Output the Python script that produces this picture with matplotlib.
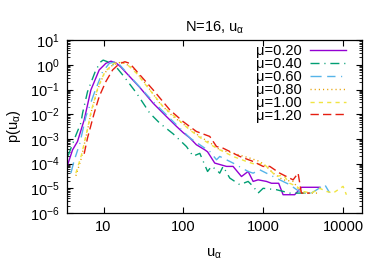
import matplotlib
matplotlib.use('Agg')
import matplotlib.pyplot as plt
from matplotlib.ticker import LogLocator, LogFormatterMathtext, FixedLocator, FixedFormatter, NullFormatter

plt.rcParams['font.family'] = ['Liberation Sans', 'DejaVu Sans']
plt.rcParams['mathtext.fontset'] = 'custom'
plt.rcParams['mathtext.rm'] = 'Liberation Sans'
plt.rcParams['mathtext.it'] = 'Liberation Sans'
plt.rcParams['mathtext.default'] = 'regular'

# distribution p(u_alpha) for each mu
u_020 = [3.45, 4.10, 4.73, 5.73, 6.95, 8.83, 10.7, 12.4, 14.3, 16.3, 21.3, 28.5, 41.8, 61.3, 81.8, 99, 120, 145,
         185, 200, 246, 345, 417, 531, 643, 743, 857, 1090, 1260, 1550, 1760, 2455, 2985, 5060]
p_020 = [6.6e-5, 3.6e-4, 7.9e-4, 5.9e-3, 0.096, 0.62, 1.15, 1.4, 1.2, 0.84, 0.33, 0.12, 0.0277, 8e-3, 3.2e-3,
         1.8e-3, 1.1e-3, 5.8e-4, 3.6e-4, 3.0e-4, 1.05e-4, 7.7e-5, 7.7e-5, 3.0e-5, 4.8e-5, 1.9e-5, 2.2e-5,
         1.9e-5, 1.6e-5, 1.6e-5, 5.5e-6, 5.5e-6, 1.1e-5, 1.1e-5]

u_040 = [3.61, 4.51, 5.21, 5.47, 6.31, 8.02, 9.26, 9.9, 12.0, 14.3, 18.1, 25.9, 37.9, 50.6, 74.3, 109, 132, 160,
         200, 224, 259, 284, 313, 379, 506, 643, 743, 857, 990, 1450, 2130, 4000]
p_040 = [2.1e-4, 1.4e-3, 4.4e-3, 0.011, 0.082, 0.62, 1.33, 1.55, 1.22, 0.84, 0.33, 0.071, 0.011, 4.3e-3, 1.6e-3,
         4.9e-4, 2.0e-4, 2.6e-4, 4.8e-5, 7.7e-5, 5.6e-5, 4.1e-5, 7.7e-5, 2.6e-5, 1.4e-5, 1.9e-5, 1.2e-5,
         6.4e-6, 1.0e-5, 8.8e-6, 6.4e-6, 6.4e-6]

u_060 = [3.91, 4.26, 5.06, 6.01, 7.64, 9.72, 11.8, 13.9, 16.0, 21.3, 41.8, 81.8, 120, 160, 213, 259, 284, 417,
         643, 743, 900, 1090, 1600, 2130, 2985, 3980, 5850, 6750]
p_060 = [4.1e-5, 1.22e-4, 6.7e-4, 8.0e-3, 0.07, 0.52, 1.14, 1.33, 0.98, 0.35, 0.032, 3.7e-3, 1.1e-3, 5.8e-4,
         3.1e-4, 1.43e-4, 1.95e-4, 1.05e-4, 4.8e-5, 4.1e-5, 5.6e-5, 4.1e-5, 2.2e-5, 1.4e-5, 6.4e-6, 6.4e-6,
         1.4e-5, 6.4e-6]

u_080 = [4.51, 5.21, 5.73, 6.31, 6.95, 8.41, 10.2, 13.0, 15.7, 18.5, 23.5, 34.5, 50.6, 74.3, 109, 160, 235, 284,
         417, 675, 900, 1090, 1320, 1760, 2350, 2710, 3100, 5060]
p_080 = [3.2e-5, 1.43e-4, 5.8e-4, 2.3e-3, 0.011, 0.096, 0.45, 0.98, 1.22, 1.14, 0.72, 0.152, 0.0277, 8e-3,
         3.2e-3, 1.26e-3, 5.8e-4, 3.6e-4, 2.65e-4, 1.67e-4, 1.22e-4, 7.7e-5, 4.1e-5, 2.2e-5, 1.9e-5, 1.0e-5,
         6.4e-6, 6.4e-6]

u_100 = [4.51, 5.31, 6.13, 7.08, 8.58, 10.4, 13.2, 16.0, 19.4, 25.9, 37.9, 55.7, 81.8, 120, 176, 259, 417, 613,
         818, 990, 1200, 1450, 1760, 2130, 2600, 3100, 3980, 5060, 6130, 7430, 9900, 10900]
p_100 = [4.1e-5, 2.3e-4, 1.7e-3, 0.015, 0.13, 0.52, 1.1, 1.3, 1.1, 0.45, 0.096, 0.02, 7e-3, 2.3e-3, 9.2e-4,
         4.2e-4, 1.95e-4, 1.22e-4, 9e-5, 1.05e-4, 5.6e-5, 3.0e-5, 3.5e-5, 1.6e-5, 1.2e-5, 7.5e-6, 6.4e-6,
         1.0e-5, 7.5e-6, 6.4e-6, 1.2e-5, 5.5e-6]

u_120 = [5.73, 6.31, 7.64, 8.83, 10.7, 13.0, 15.7, 18.5, 21.3, 28.5, 41.8, 67.5, 99, 145, 213, 259, 313, 506,
         743, 990, 1200, 1600, 1940, 2350, 2710, 2985, 3790]
p_120 = [2.5e-4, 1.1e-3, 0.011, 0.052, 0.21, 0.62, 1.1, 1.33, 1.14, 0.39, 0.096, 0.0149, 5e-3, 2e-3, 1.26e-3,
         4.9e-4, 4.2e-4, 1.95e-4, 1.22e-4, 7.7e-5, 7.7e-5, 4.1e-5, 3.0e-5, 2.2e-5, 4.1e-5, 6.4e-6, 6.4e-6]

labels = [u'\u03bc=0.20', u'\u03bc=0.40', u'\u03bc=0.60', u'\u03bc=0.80', u'\u03bc=1.00', u'\u03bc=1.20']
xtick_vals = [10, 100, 1000, 10000]
xtick_labels = ['10', '100', '1000', '10000']

series = [(u_020, p_020), (u_040, p_040), (u_060, p_060), (u_080, p_080), (u_100, p_100), (u_120, p_120)]
# gnuplot-like colours / dash types
colors = ['#9400d3', '#009e73', '#56b4e9', '#e69f00', '#f0e442', '#e51e10']
dashes = ['-', (0, (6.5, 3.5, 0.8, 3.5)), (0, (8, 4, 6, 4, 0.8, 4)), (0, (0.8, 2.2)), (0, (3, 3)), (0, (6, 3))]

fs = 10.5

fig = plt.figure(figsize=(3.87, 2.71), dpi=100)
ax = fig.add_axes([0.172, 0.214, 0.763, 0.638])

for (u, p), c, ls, lab in zip(series, colors, dashes, labels):
    ax.plot(u, p, color=c, linestyle=ls, linewidth=1.0, label=lab)

ax.set_xscale('log')
ax.set_yscale('log')
ax.set_xlim(3.45, 17000)
ax.set_ylim(1e-6, 10)

ax.xaxis.set_major_locator(FixedLocator(xtick_vals))
ax.xaxis.set_major_formatter(FixedFormatter(xtick_labels))
ax.xaxis.set_minor_locator(FixedLocator([]))
ax.yaxis.set_major_locator(LogLocator(base=10, numticks=20))
ax.yaxis.set_major_formatter(LogFormatterMathtext())
ax.yaxis.set_minor_locator(LogLocator(base=10, subs=range(2, 10), numticks=20))
ax.yaxis.set_minor_formatter(NullFormatter())

ax.tick_params(which='both', direction='in', top=True, right=True, labelsize=fs)
ax.tick_params(which='major', length=4, width=0.8, pad=5)
ax.tick_params(which='minor', length=2, width=0.6)
for s in ax.spines.values():
    s.set_linewidth(0.9)

ax.set_title(r'N=16, u$_\alpha$', fontsize=fs, pad=6)
ax.set_xlabel(r'u$_\alpha$', fontsize=fs, labelpad=9)
ax.set_ylabel(r'p(u$_\alpha$)', fontsize=fs, labelpad=5)

ax.legend(loc='upper right', bbox_to_anchor=(0.948, 0.975), frameon=False, fontsize=fs,
          markerfirst=False, handlelength=2.5, handletextpad=0.6, labelspacing=-0.08,
          borderpad=0, borderaxespad=0)

plt.savefig('out.png', dpi=100)
plt.close()
